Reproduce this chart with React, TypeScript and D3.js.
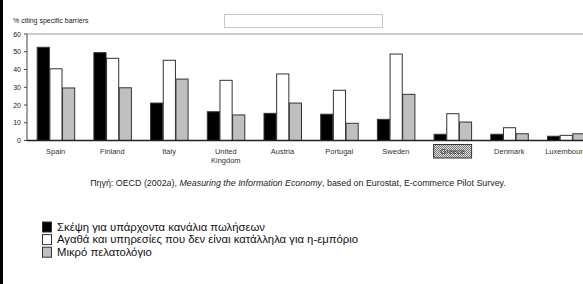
import React from 'react';
import * as d3 from 'd3';

const countries = ['Spain', 'Finland', 'Italy', 'United Kingdom', 'Austria', 'Portugal', 'Sweden', 'Greece', 'Denmark', 'Luxembourg'];
const seriesNames = [
    'Σκέψη για υπάρχοντα κανάλια πωλήσεων',
    'Αγαθά και υπηρεσίες που δεν είναι κατάλληλα για η-εμπόριο',
    'Μικρό πελατολόγιο',
];
const existingChannels = [52.5, 49.5, 21.1, 16.2, 15.3, 14.8, 11.9, 3.5, 3.5, 2.4];
const notSuitable = [40.4, 46.3, 45.2, 33.9, 37.5, 28.3, 48.7, 15.1, 7.2, 2.9];
const smallCustomerBase = [29.6, 29.7, 34.6, 14.4, 21.1, 9.7, 26.0, 10.4, 3.8, 3.8];
const yTicks = [0, 10, 20, 30, 40, 50, 60];
const colors = ['#000000', '#ffffff', '#c0c0c0'];

const W = 583;
const H = 284;
const font = 'Arial, "Liberation Sans", sans-serif';

export default function App() {
    const series = [existingChannels, notSuitable, smallCustomerBase];

    const y = d3.scaleLinear().domain([0, 60]).range([140.5, 34]);
    const x = d3
        .scaleBand()
        .domain(countries)
        .range([27, 594.7])
        .paddingInner(0.33)
        .paddingOuter(0.171);
    const xs = d3
        .scaleBand()
        .domain(d3.range(series.length).map(String))
        .range([0, x.bandwidth()]);

    return (
        <svg width={W} height={H} style={{ position: 'absolute', left: 0, top: 0 }} fontFamily={font}>
            <defs>
                <pattern id="checks" width={2} height={2} patternUnits="userSpaceOnUse">
                    <rect width={2} height={2} fill="#e0e0e0" />
                    <rect width={1} height={1} fill="#777" />
                    <rect x={1} y={1} width={1} height={1} fill="#777" />
                </pattern>
                <clipPath id="plot">
                    <rect x={0} y={0} width={W} height={H} />
                </clipPath>
            </defs>
            <rect width={W} height={H} fill="#fff" />
            {/* left frame */}
            <rect x={0} y={0} width={3} height={H} fill="#000" />

            {/* y label and the empty box */}
            <text x={13} y={23} fontSize={7} fill="#222">% citing specific barriers</text>
            <rect x={224.5} y={14.5} width={158} height={13} fill="#fff" stroke="#c8c8c8" />

            {/* top frame line */}
            <line x1={27} x2={W} y1={y(60)} y2={y(60)} stroke="#9a9a9a" />
            {/* y axis */}
            <line x1={27} x2={27} y1={y(60)} y2={y(0)} stroke="#444" />
            {yTicks.map((t) => (
                <g key={t}>
                    <line x1={24} x2={27} y1={y(t)} y2={y(t)} stroke="#444" />
                    <text x={21} y={y(t) + 2.5} fontSize={7} textAnchor="end" fill="#222">
                        {t}
                    </text>
                </g>
            ))}

            {/* bars */}
            <g clipPath="url(#plot)">
                {countries.map((c, i) => (
                    <g key={c} transform={`translate(${x(c)},0)`}>
                        {series.map((s, j) => (
                            <rect
                                key={j}
                                x={(xs(String(j)) as number) + 0.5}
                                y={y(s[i])}
                                width={xs.bandwidth() - 0.5}
                                height={y(0) - y(s[i])}
                                fill={colors[j]}
                                stroke="#333"
                                strokeWidth={1}
                            />
                        ))}
                    </g>
                ))}
            </g>
            {/* baseline */}
            <line x1={27} x2={W} y1={y(0)} y2={y(0)} stroke="#222" strokeWidth={1.5} />

            {/* category labels */}
            {countries.map((c) => {
                const cx = (x(c) as number) + x.bandwidth() / 2;
                if (c === 'United Kingdom') {
                    return (
                        <text key={c} x={cx} y={154} fontSize={7.5} textAnchor="middle" fill="#333">
                            <tspan x={cx}>United</tspan>
                            <tspan x={cx} dy={9}>Kingdom</tspan>
                        </text>
                    );
                }
                return (
                    <g key={c}>
                        {c === 'Greece' && (
                            <rect x={cx - 19} y={144.5} width={38} height={13.5} fill="url(#checks)" stroke="#333" />
                        )}
                        <text x={cx} y={154} fontSize={7.5} textAnchor="middle" fill="#333">
                            {c}
                        </text>
                    </g>
                );
            })}

            {/* source */}
            <text x={298} y={186} fontSize={8.9} textAnchor="middle" fill="#222">
                Πηγή: OECD (2002<tspan fontStyle="italic">a</tspan>),{' '}
                <tspan fontStyle="italic">Measuring the Information Economy</tspan>, based on Eurostat, E-commerce Pilot Survey.
            </text>

            {/* legend */}
            {seriesNames.map((name, j) => (
                <g key={name} transform={`translate(0,${222 + j * 12.6})`}>
                    <rect x={42.5} y={0} width={9} height={10} fill={colors[j]} stroke="#333" />
                    <text x={57} y={8.8} fontSize={11.3} fill="#111">
                        {name}
                    </text>
                </g>
            ))}
        </svg>
    );
}
